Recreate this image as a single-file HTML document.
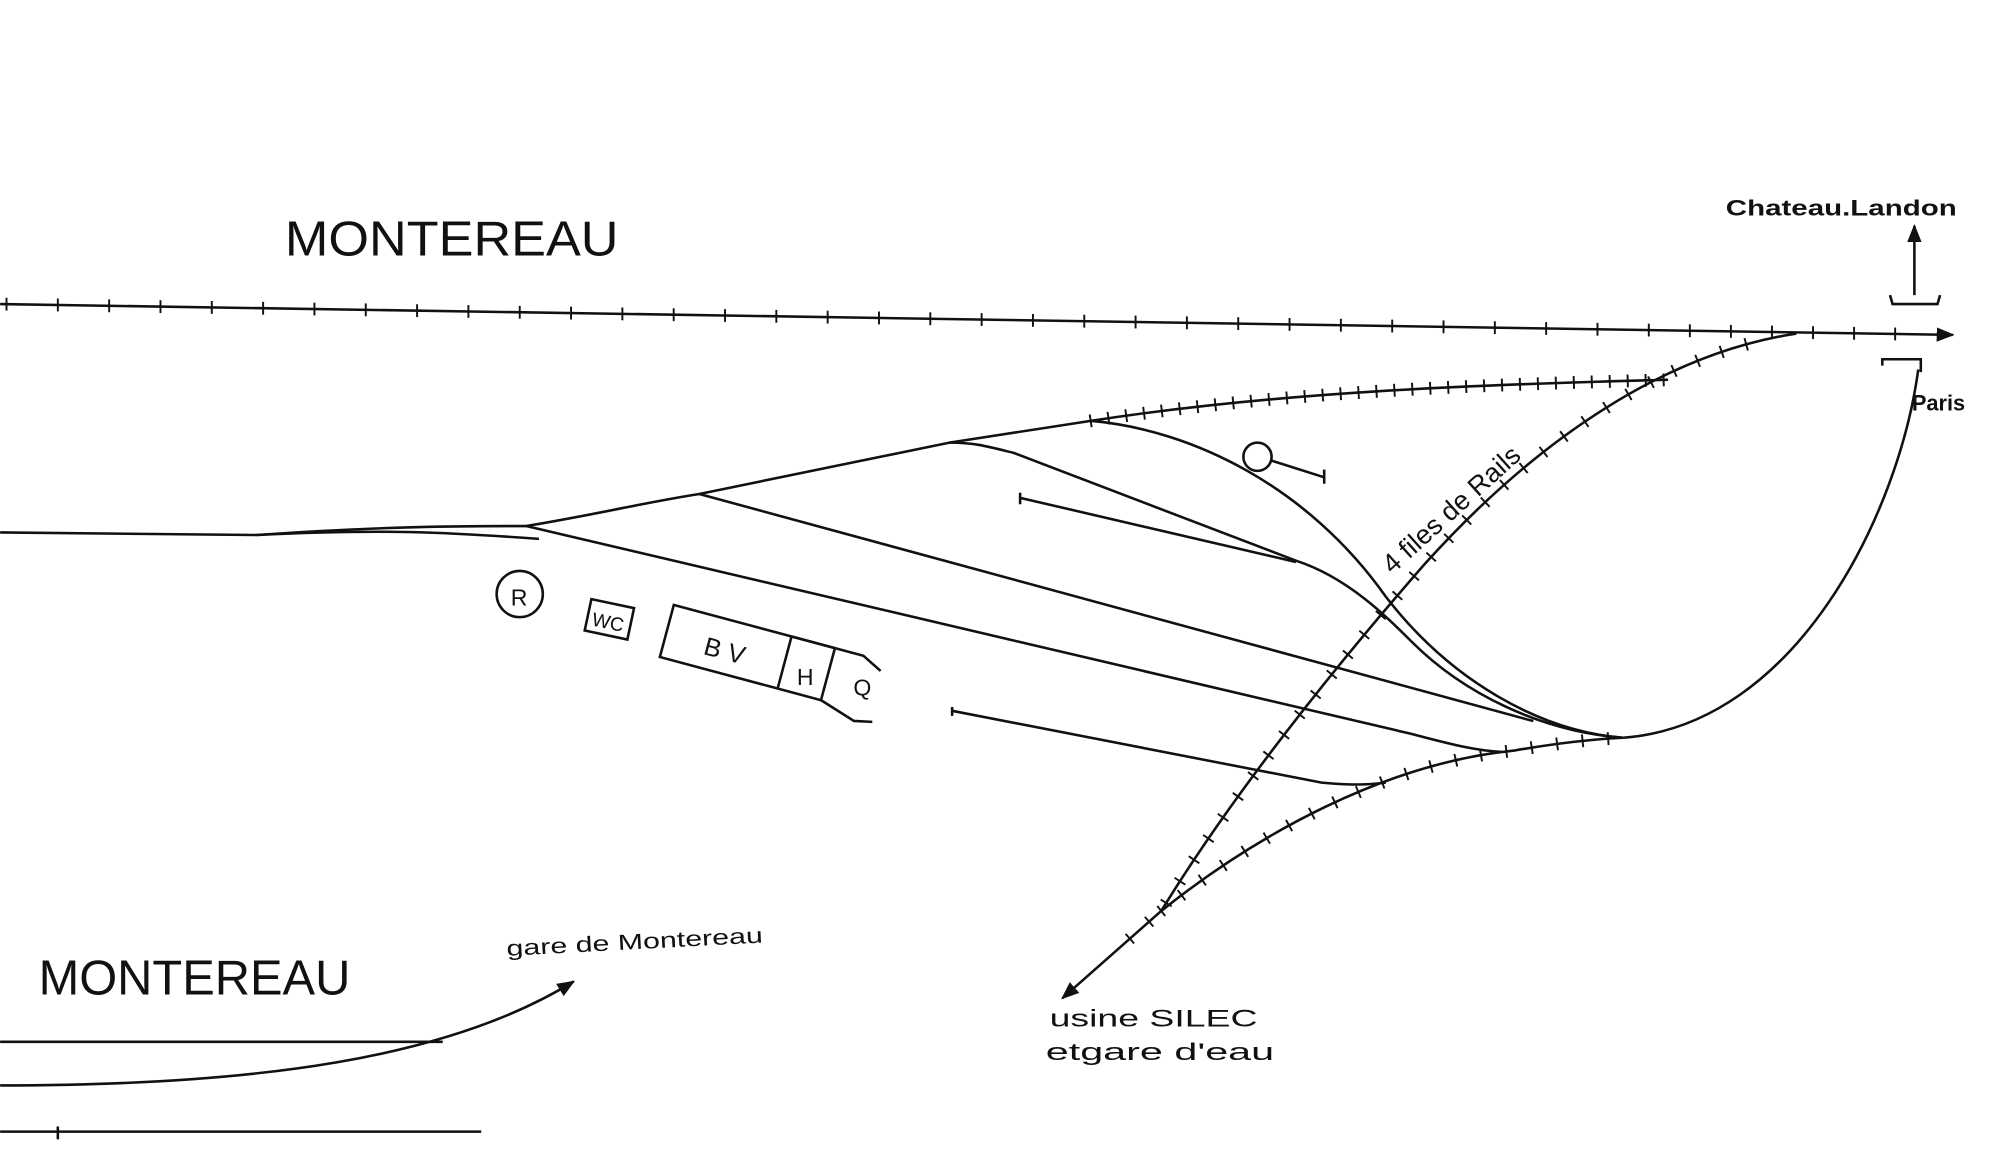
<!DOCTYPE html>
<html><head><meta charset="utf-8"><style>
html,body{margin:0;padding:0;background:#fff;}
svg{display:block}
text{font-family:"Liberation Sans",sans-serif;fill:#111}
</style></head><body>
<svg width="2012" height="1165" viewBox="0 0 1568 908" xmlns="http://www.w3.org/2000/svg">
<defs>
<marker id="ar" viewBox="0 0 10 10" refX="9" refY="5" markerWidth="7" markerHeight="7" orient="auto-start-reverse"><path d="M0,1 L10,5 L0,9 z" fill="#111"/></marker>
</defs>
<g fill="none" stroke="#111" stroke-width="2">
<line x1="0" y1="237" x2="1522" y2="261" marker-end="url(#ar)"/>
<g stroke-width="1.5" id="ticks"></g>
<path id="c1" d="M1400,260 C1300,275 1200,340 1110,440 C1040,520 960,620 905,710 L828,778" marker-end="url(#ar)"/>
<path id="c2" d="M850,328 C1000,305 1150,300 1300,296"/>
<path id="c3" d="M905,710 C980,650 1080,595 1180,585 C1220,578 1245,576 1265,575"/>
<path d="M1495,288 C1480,400 1400,565 1265,575"/>
<path d="M1467,285 L1467,280 L1497,280 L1497,290"/>
<path d="M1473,230 L1475,237 L1510,237 L1512,230"/>
<line x1="1492" y1="230" x2="1492" y2="176" marker-end="url(#ar)"/>
<path d="M0,415 L200,417 C300,410 360,410 410,410 C470,400 500,392 545,385 L740,345 L850,328"/>
<path d="M850,328 C930,335 1020,380 1080,465 C1130,530 1200,570 1265,575"/>
<path d="M740,345 C760,345 770,348 790,353 L1010,437 C1050,450 1080,480 1100,500 C1140,540 1200,570 1265,575"/>
<path d="M545,385 L1195,562"/>
<path d="M410,410 L1100,572 C1130,580 1150,585 1170,586"/>
<path d="M200,417 C300,412 350,415 420,420"/>
<path d="M742,551 L742,558 M742,554 L1030,610 C1050,612 1065,612 1080,610"/>
<path d="M795,388 L1010,438" />
<line x1="795" y1="384" x2="795" y2="393"/>
<circle cx="980" cy="356" r="11"/>
<line x1="991" y1="359" x2="1032" y2="372"/><line x1="1032" y1="366" x2="1032" y2="377"/>
<circle cx="405" cy="463" r="18"/>
<g transform="rotate(12 474 482)"><rect x="458" y="470" width="34" height="25"/></g>
<g transform="rotate(15 580 510)"><rect x="517" y="487" width="130" height="42"/><line x1="612" y1="487" x2="612" y2="529"/><path d="M612,487 L670,487 L686,495 M647,529 L676,538 L690,535"/></g>
<line x1="0" y1="812" x2="345" y2="812"/>
<path d="M0,846 C200,846 350,825 447,765" marker-end="url(#ar)"/>
<line x1="0" y1="882" x2="375" y2="882"/>
<line x1="45" y1="878" x2="45" y2="888"/>
</g>
<text x="222" y="199" font-size="38" textLength="260" lengthAdjust="spacingAndGlyphs">MONTEREAU</text>
<text x="30" y="775" font-size="38" textLength="243" lengthAdjust="spacingAndGlyphs">MONTEREAU</text>
<text x="1345" y="168" font-size="17" font-weight="bold" textLength="180" lengthAdjust="spacingAndGlyphs">Chateau.Landon</text>
<text x="1490" y="320" font-size="17" font-weight="bold">Paris</text>
<text x="0" y="0" font-size="21" transform="translate(1085,448) rotate(-42)">4 files de Rails</text>
<text x="395" y="745" font-size="17" transform="rotate(-3 395 745)" textLength="200" lengthAdjust="spacingAndGlyphs">gare de Montereau</text>
<text x="818" y="800" font-size="19" textLength="162" lengthAdjust="spacingAndGlyphs">usine SILEC</text>
<text x="815" y="826" font-size="19" textLength="178" lengthAdjust="spacingAndGlyphs">etgare d'eau</text>
<text x="398" y="472" font-size="18">R</text>
<text x="462" y="490" font-size="15" transform="rotate(12 474 482)">WC</text>
<text x="548" y="515" font-size="20" transform="rotate(15 568 510)">B V</text>
<text x="621" y="534" font-size="18">H</text>
<text x="665" y="542" font-size="18">Q</text>
</svg>
<script>
(function(){
var ns="http://www.w3.org/2000/svg",g=document.getElementById("ticks");
function tl(x,y,dx,dy){var l=document.createElementNS(ns,"line");l.setAttribute("x1",x-dx);l.setAttribute("y1",y-dy);l.setAttribute("x2",x+dx);l.setAttribute("y2",y+dy);g.appendChild(l);}
for(var x=5;x<1500;x+=(x<1280?40:32)){var y=237+24*x/1522;tl(x,y,0,5);}
["c1","c2","c3"].forEach(function(id){var p=document.getElementById(id),L=p.getTotalLength(),end=id=="c1"?L-60:L;var st=id=="c1"?40:0;for(var s=st;s<end;s+=id=="c2"?14:20){var a=p.getPointAtLength(s),b=p.getPointAtLength(s+1);var dx=b.x-a.x,dy=b.y-a.y,n=Math.hypot(dx,dy)||1;tl(a.x,a.y,-dy/n*5,dx/n*5);}});
})();
</script>
</body></html>
